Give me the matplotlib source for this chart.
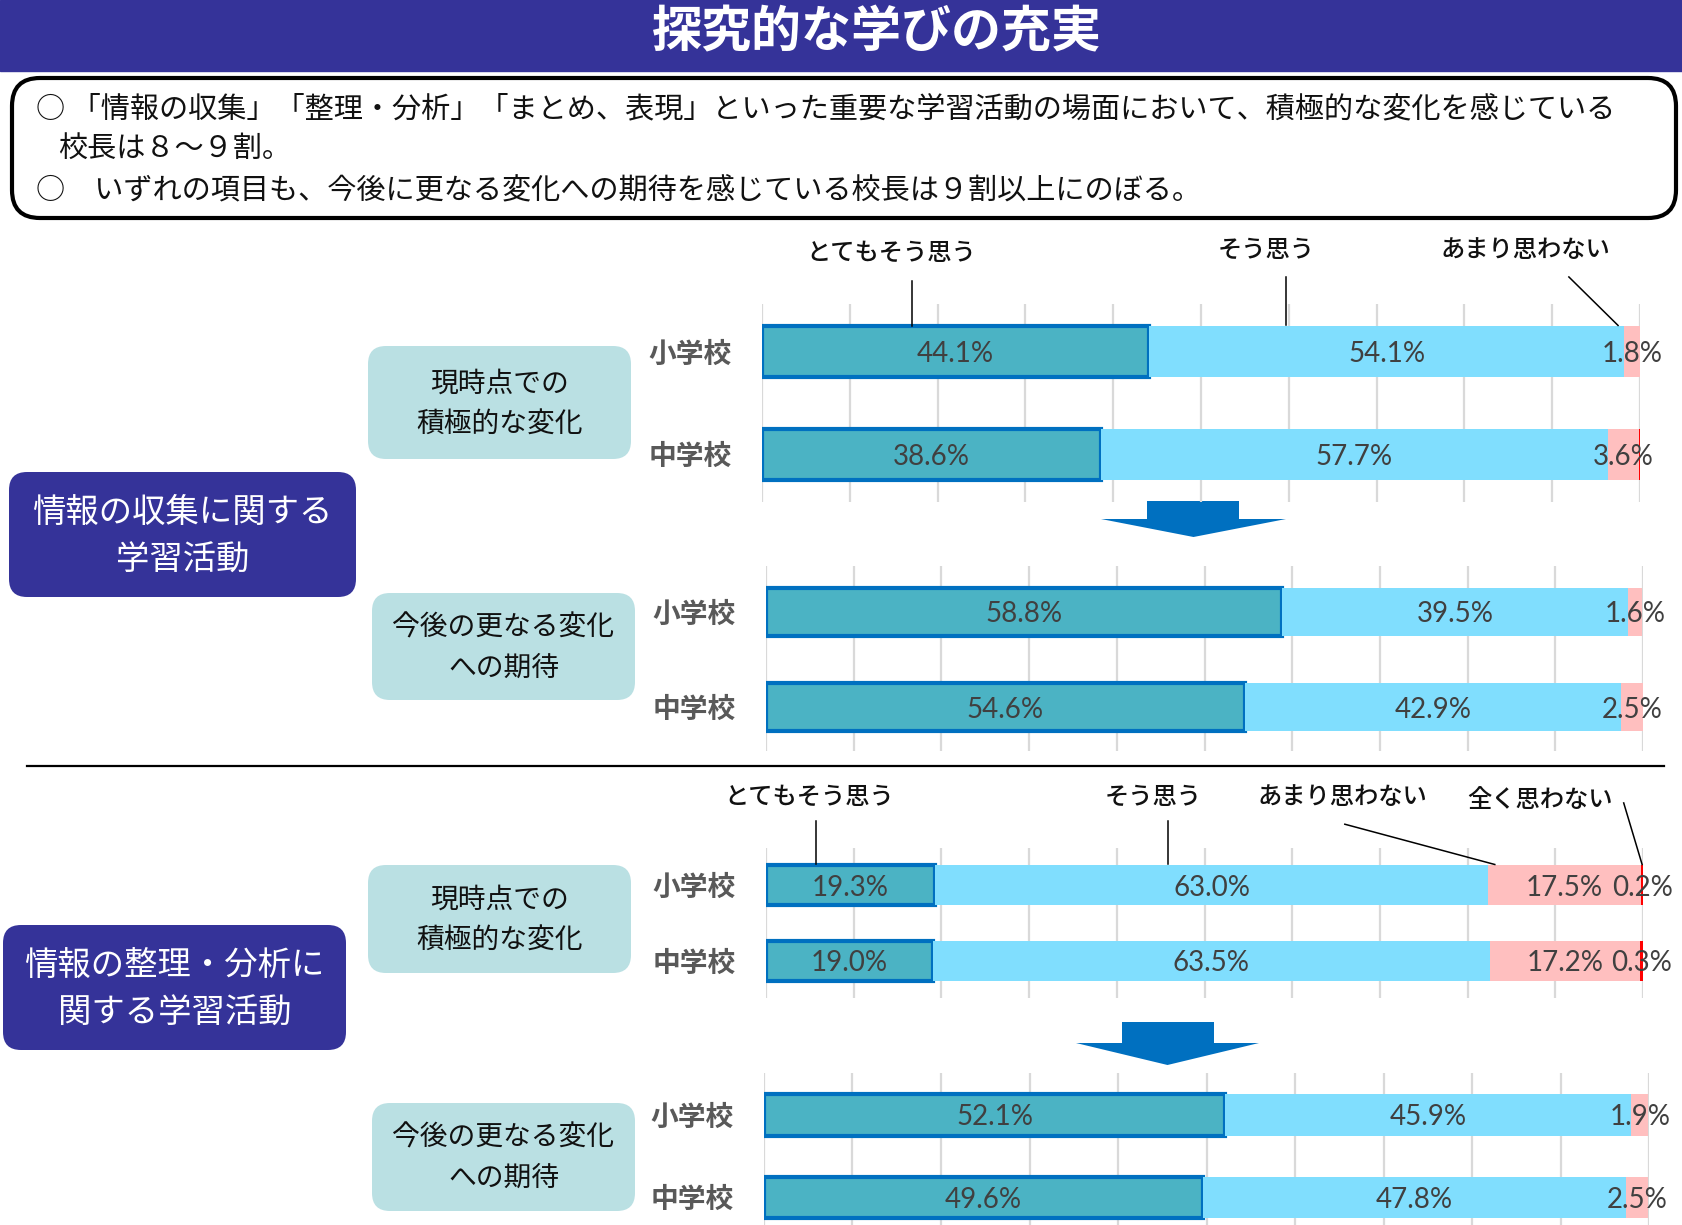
import matplotlib
matplotlib.use("Agg")
import matplotlib.pyplot as plt
from matplotlib.patches import FancyBboxPatch, Rectangle, Polygon

plt.rcParams['font.family'] = ['Noto Sans CJK JP', 'DejaVu Sans']

# ---- data ----
rows = ["小学校", "中学校"]
categories = ["とてもそう思う", "そう思う", "あまり思わない", "全く思わない"]

collect_now = [[44.1, 38.6], [54.1, 57.7], [1.8, 3.6], [0.0, 0.1]]
collect_future = [[58.8, 54.6], [39.5, 42.9], [1.6, 2.5], [0.0, 0.0]]
analyze_now = [[19.3, 19.0], [63.0, 63.5], [17.5, 17.2], [0.2, 0.3]]
analyze_future = [[52.1, 49.6], [45.9, 47.8], [1.9, 2.5], [0.0, 0.0]]

title = "探究的な学びの充実"
summary = [
    "○ 「情報の収集」「整理・分析」「まとめ、表現」といった重要な学習活動の場面において、積極的な変化を感じている",
    "校長は８～９割。",
    "○　いずれの項目も、今後に更なる変化への期待を感じている校長は９割以上にのぼる。",
]
topics = ["情報の収集に関する\n学習活動", "情報の整理・分析に\n関する学習活動"]
phases = ["現時点での\n積極的な変化", "今後の更なる変化\nへの期待"]

colors = ["#4BB3C4", "#80DEFE", "#FFBFBF", "#FF0000"]
navy = "#353399"
light_box = "#BAE0E3"
W, H = 1683, 1225

fig = plt.figure(figsize=(W / 100, H / 100), dpi=100)
bg = fig.add_axes([0, 0, 1, 1])
bg.set_xlim(0, W)
bg.set_ylim(H, 0)
bg.axis("off")

# title band
bg.add_patch(Rectangle((0, 0), W, 71, color=navy))
bg.text(877, 33, title, color="white", fontsize=36, fontweight="bold", ha="center", va="center")

# summary box
bg.add_patch(FancyBboxPatch((12, 78), 1664, 140, boxstyle="round,pad=0,rounding_size=28",
                            fc="white", ec="black", lw=3))
bg.text(36, 109, summary[0], fontsize=21, va="center", color="#111111")
bg.text(58, 149, summary[1], fontsize=21, va="center", color="#111111")
bg.text(36, 191, summary[2], fontsize=21, va="center", color="#111111")

# separator
bg.plot([27, 1664], [766, 766], color="black", lw=1.6)

# left dark boxes
for (x0, y0, x1, y1), txt in zip([(9, 472, 356, 597), (3, 925, 346, 1050)], topics):
    bg.add_patch(FancyBboxPatch((x0, y0), x1 - x0, y1 - y0, boxstyle="round,pad=0,rounding_size=18",
                                fc=navy, ec="none"))
    bg.text((x0 + x1) / 2, (y0 + y1) / 2 + 2, txt, color="white", fontsize=24, ha="center",
            va="center", linespacing=1.45)

# phase boxes
phase_boxes = [(368, 346, 631, 459, 0), (372, 593, 635, 700, 1),
               (368, 865, 631, 973, 0), (372, 1103, 635, 1211, 1)]
for x0, y0, x1, y1, k in phase_boxes:
    bg.add_patch(FancyBboxPatch((x0, y0), x1 - x0, y1 - y0, boxstyle="round,pad=0,rounding_size=18",
                                fc=light_box, ec="none"))
    bg.text((x0 + x1) / 2, (y0 + y1) / 2 + 1, phases[k], color="#111111", fontsize=20,
            ha="center", va="center", linespacing=1.45)

# arrows
for sx0, sx1, sy0, sy1, hx0, hx1, tip in [(1147, 1239, 501, 519, 1101, 1286, 537),
                                          (1122, 1214, 1022, 1043, 1076, 1259, 1065)]:
    bg.add_patch(Polygon([(sx0, sy0), (sx1, sy0), (sx1, sy1), (hx1, sy1),
                          ((hx0 + hx1) / 2, tip), (hx0, sy1), (sx0, sy1)],
                         closed=True, color="#0070C0", lw=0))

# ---- charts ----
charts = [
    # data, (x0, x1, ytop, ybottom) px, ylim, bar height, annotations
    (collect_now, (762, 1640, 304, 502), (1.47, -0.47), 0.5,
     [(0, 14.7, -0.97, (17.1, -0.70), (17.1, -0.25)),
      (1, 57.4, -1.00, (59.7, -0.735), (59.7, -0.26)),
      (2, 86.9, -1.00, (91.9, -0.735), (97.5, -0.26))]),
    (collect_future, (766, 1643, 566, 751), (1.463, -0.484), 0.505, []),
    (analyze_now, (766, 1643, 848, 998), (1.487, -0.487), 0.526,
     [(0, 4.9, -1.16, (5.7, -0.84), (5.7, -0.27)),
      (1, 44.2, -1.16, (45.8, -0.84), (45.8, -0.27)),
      (2, 65.7, -1.16, (66.0, -0.80), (83.1, -0.27)),
      (3, 88.3, -1.12, (97.8, -1.08), (99.9, -0.27))]),
    (analyze_future, (764, 1649, 1073, 1225), (1.341, -0.512), 0.5, []),
]

for data, (x0, x1, yt, yb), ylim, bh, notes in charts:
    ax = fig.add_axes([x0 / W, 1 - yb / H, (x1 - x0) / W, (yb - yt) / H])
    ax.set_xlim(0, 100)
    ax.set_ylim(*ylim)
    left = [0.0, 0.0]
    for i, vals in enumerate(data):
        if i == 0:
            bars = ax.barh(range(2), vals, left=left, height=bh, color=colors[i],
                           edgecolor="#0070C0", linewidth=3, zorder=3)
        else:
            bars = ax.barh(range(2), vals, left=left, height=bh, color=colors[i], zorder=3)
        labels = [f"{v:.1f}%" if v >= 0.2 else "" for v in vals]
        txts = ax.bar_label(bars, labels=labels, label_type="center", fontsize=20,
                            color="#404040", family=["Lato", "DejaVu Sans"], zorder=5)
        for t in txts:
            t.set_va("center_baseline")
        left = [a + b for a, b in zip(left, vals)]
    ax.set_xticks(range(0, 101, 10))
    ax.tick_params(axis="x", length=0, labelbottom=False)
    ax.grid(axis="x", color="#D9D9D9", lw=1.6, zorder=0)
    ax.set_yticks(range(2), labels=rows)
    ax.tick_params(axis="y", length=0, pad=22, labelsize=20, labelcolor="#595959")
    for lab in ax.get_yticklabels():
        lab.set_fontweight("bold")
    for s in ax.spines.values():
        s.set_visible(False)
    ax.patch.set_alpha(0)
    for k, tx, ty, p0, p1 in notes:
        ax.text(tx, ty, categories[k], fontsize=17.5, ha="center", va="center",
                color="#111111", fontweight="medium", clip_on=False)
        ax.plot([p0[0], p1[0]], [p0[1], p1[1]], color="black", lw=1.1, clip_on=False, zorder=4)

fig.savefig("out.png", dpi=100)
